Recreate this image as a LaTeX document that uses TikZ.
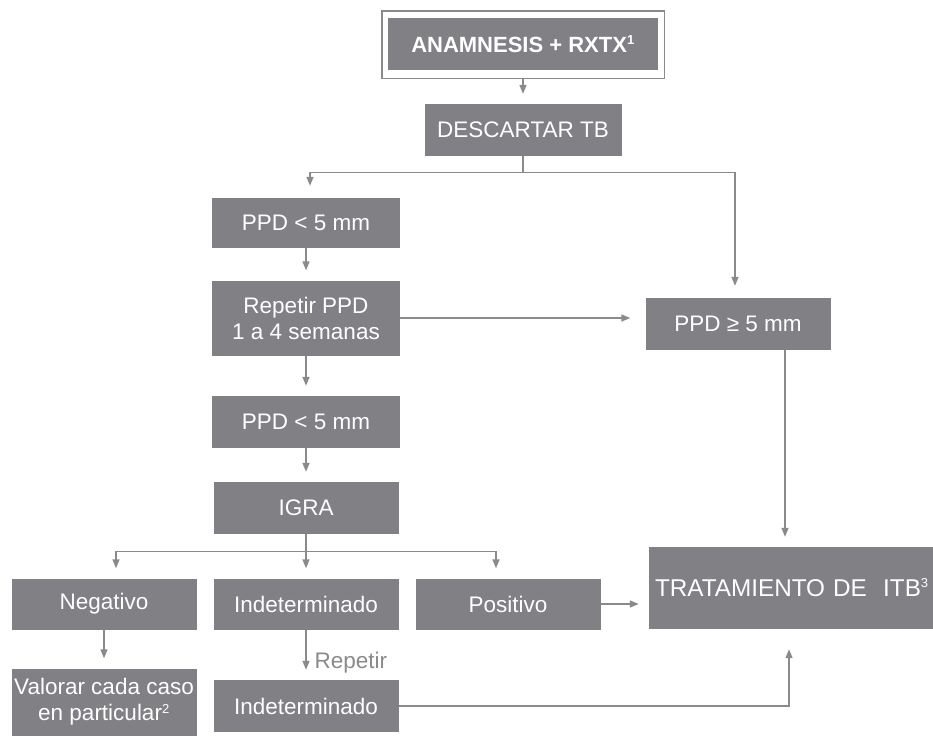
\documentclass[tikz,border=0pt]{standalone}
\usepackage{fontspec}
\setmainfont{Liberation Sans}
\usetikzlibrary{arrows.meta,calc}

\definecolor{boxgray}{HTML}{808085}
\definecolor{linegray}{HTML}{8A8A8C}

\newcommand{\boxw}{185pt}
\newcommand{\boxh}{52pt}
\newcommand{\txt}{\fontsize{22.5}{26}\selectfont}
\newcommand{\sups}[1]{\textsuperscript{\fontsize{13}{13}\selectfont #1}}

\tikzset{
  box/.style={fill=boxgray, text=white, minimum width=\boxw, minimum height=\boxh,
    inner sep=0pt, align=center, font=\txt},
  link/.style={draw=linegray, line width=1.4pt},
  arr/.style={link, -{Triangle[length=9pt,width=7pt]}, shorten >=10pt},
}

\begin{document}
\begin{tikzpicture}[x=1pt, y=-1pt]
\useasboundingbox (0,0) rectangle (933,736);

% boxes
\node [box, minimum width=270pt, font=\fontsize{22}{25}\selectfont\bfseries] (anam) at (523,44) {ANAMNESIS + RXTX\sups{1}};
\draw [link] ($(anam.north west)+(-6,-7)$) rectangle ($(anam.south east)+(6,8)$);
\coordinate (frame) at ($(anam.south)+(0,8)$);

\node [box, minimum width=197pt] (desc) at (523,130) {DESCARTAR TB};
\node [box, minimum width=188pt, minimum height=50pt] (ppda) at (306,223) {PPD < 5 mm};
\node [box, minimum width=188pt, minimum height=75pt] (rep) at (306,318) {Repetir PPD\\1 a 4 semanas};
\node [box, minimum width=188pt] (ppdb) at (306,422) {PPD < 5 mm};
\node [box] (igra) at (306,508) {IGRA};
\node [box] (ppdc) at (738,324) {PPD ≥ 5 mm};

\node [box, minimum height=51pt] (neg) at (104,604) {Negativo};
\node [box, minimum height=51pt] (ind) at (306,604) {Indeterminado};
\node [box, minimum height=51pt] (pos) at (508,604) {Positivo};
\node [box, minimum width=296pt, minimum height=82pt, text width=284pt, align=left,
  font=\fontsize{24.3}{29}\selectfont] (trat) at (797,588) {TRATAMIENTO DE\ \ ITB\sups{3}};

\node [box, minimum height=67pt] (val) at (104,702) {Valorar cada caso\\en particular\sups{2}};
\node [box] (ind2) at (306,706) {Indeterminado};

% connectors
\draw [arr] (frame) -- (desc.north);
\draw [link] (desc.south) -- ++(0,16) coordinate (split);
\draw [arr, shorten >=12pt] (split) -| ([xshift=4]ppda.north);
\draw [arr, shorten >=12pt] (split) -| ([xshift=-3]ppdc.north);
\draw [arr] (ppda.south) -- (rep.north);
\draw [arr, shorten >=15pt] (rep.east) -- (rep.east -| ppdc.west);
\draw [arr] (rep.south) -- (ppdb.north);
\draw [arr] (ppdb.south) -- (igra.north);
\draw [arr] ([xshift=47]ppdc.south) -- ([xshift=47]ppdc.south |- trat.north);

\draw [link] (igra.south) -- ++(0,17) coordinate (igrasplit);
\draw [arr] (igrasplit) -| ([xshift=12]neg.north);
\draw [arr] (igrasplit) -- (ind.north);
\draw [arr] (igrasplit) -| ([xshift=-12]pos.north);

\draw [arr] (pos.east) -- (pos.east -| trat.west);
\draw [arr] (neg.south) -- (val.north);
\draw [arr] (ind.south) -- node [pos=0.66, anchor=west, xshift=8pt, text=linegray, font=\txt, inner sep=0pt] {Repetir} (ind2.north);
\draw [arr, shorten >=20pt] (ind2.east) -| ([xshift=-8]trat.south);
\end{tikzpicture}
\end{document}
